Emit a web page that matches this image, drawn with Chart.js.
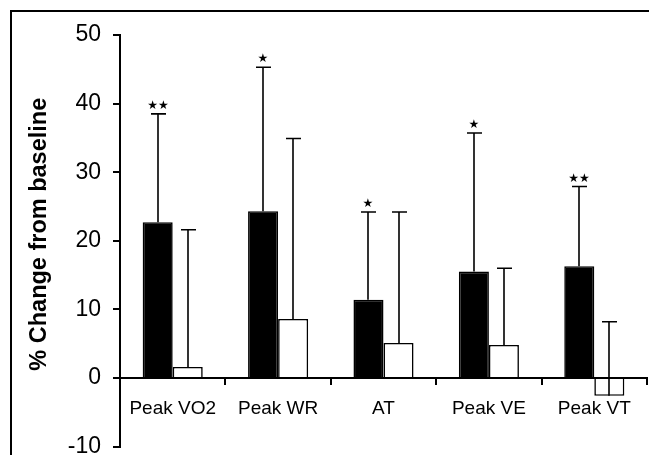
<!DOCTYPE html>
<html>
<head>
<meta charset="utf-8">
<script src="https://cdn.jsdelivr.net/npm/chart.js@4.4.0/dist/chart.umd.min.js"></script>
<style>
  html, body { margin: 0; padding: 0; background: #fff; overflow: hidden; }
  #wrap { position: relative; width: 649px; height: 455px; overflow: hidden; }
  #frame { position: absolute; left: 10px; top: 10px; width: 700px; height: 500px;
           border-top: 2px solid #000; border-left: 2px solid #000; }
  canvas { position: absolute; left: 0; top: 0; }
</style>
</head>
<body>
<div id="wrap">
  <div id="frame"></div>
  <canvas id="chart" width="649" height="470"></canvas>
</div>
<script>
const categories = ['Peak VO2', 'Peak WR', 'AT', 'Peak VE', 'Peak VT']
const trainedMeans = [22.7, 24.3, 11.4, 15.5, 16.3]
const trainedSD = [15.8, 21.0, 12.8, 20.2, 11.6]
const controlMeans = [1.6, 8.6, 5.1, 4.8, -2.6]
const controlSD = [20.0, 26.3, 19.1, 11.2, 10.8]
const significance = [2, 1, 1, 1, 2] // number of stars over the trained bar
const yTicks = [-10, 0, 10, 20, 30, 40, 50]

const FONT = "'Liberation Sans', Arial, Helvetica, sans-serif"

// upper error bars (mean -> mean + SD) with caps, plus significance stars
const errorBars = {
  id: 'errorBars',
  afterDatasetsDraw(chart) {
    let { ctx, scales: { y } } = chart
    let sets = [[trainedMeans, trainedSD], [controlMeans, controlSD]]
    ctx.save()
    ctx.strokeStyle = '#000'
    ctx.lineWidth = 1.6
    sets.forEach(([means, sds], di) => {
      chart.getDatasetMeta(di).data.forEach((bar, i) => {
        let x = Math.round(bar.x)
        let y0 = y.getPixelForValue(means[i])
        let y1 = y.getPixelForValue(means[i] + sds[i])
        ctx.beginPath()
        ctx.moveTo(x, y0)
        ctx.lineTo(x, y1)
        ctx.moveTo(x - 7, y1)
        ctx.lineTo(x + 8, y1)
        ctx.stroke()
        if (di === 0 && significance[i]) {
          ctx.fillStyle = '#000'
          ctx.font = "12px 'DejaVu Sans'"
          ctx.textAlign = 'center'
          ctx.textBaseline = 'bottom'
          ctx.fillText('★'.repeat(significance[i]), x, y1 - 2)
        }
      })
    })
    ctx.restore()
  }
}

let chart = new Chart(document.getElementById('chart'), {
  type: 'bar',
  data: {
    labels: categories,
    datasets: [
      {
        label: 'Training',
        data: trainedMeans,
        backgroundColor: '#000',
        borderColor: '#000',
        borderWidth: 1.6
      },
      {
        label: 'Control',
        data: controlMeans,
        backgroundColor: '#fff',
        borderColor: '#000',
        borderWidth: 1.6
      }
    ]
  },
  options: {
    responsive: false,
    animation: false,
    devicePixelRatio: 1,
    layout: { padding: { top: 35, bottom: 22, left: 0, right: 2 } },
    plugins: {
      legend: { display: false },
      tooltip: { enabled: false }
    },
    datasets: {
      bar: { categoryPercentage: 0.57, barPercentage: 1 }
    },
    scales: {
      x: {
        position: { y: 0 },
        offset: true,
        grid: {
          display: true,
          drawOnChartArea: false,
          drawTicks: true,
          tickLength: 6,
          offset: true,
          color: '#000',
          lineWidth: 2
        },
        border: { display: true, color: '#000', width: 2 },
        ticks: {
          color: '#000',
          font: { family: FONT, size: 19 },
          padding: 13,
          maxRotation: 0
        }
      },
      y: {
        min: -10,
        max: 50,
        afterFit(scale) { scale.width = 120 },
        afterBuildTicks(scale) { scale.ticks = yTicks.map(v => ({ value: v })) },
        grid: {
          drawOnChartArea: false,
          tickLength: 7,
          color: '#000',
          lineWidth: 2
        },
        border: { display: true, color: '#000', width: 2 },
        ticks: {
          color: '#000',
          font: { family: FONT, size: 23, lineHeight: 1 },
          padding: 12
        },
        title: {
          display: true,
          // leading spaces nudge the centred title a little up the axis, as in the original
          text: '\u00a0\u00a0% Change from baseline',
          color: '#000',
          font: { family: FONT, size: 23.5, weight: 'bold' },
          padding: { top: 25, bottom: 0 }
        }
      }
    }
  },
  plugins: [errorBars]
})
</script>
</body>
</html>
